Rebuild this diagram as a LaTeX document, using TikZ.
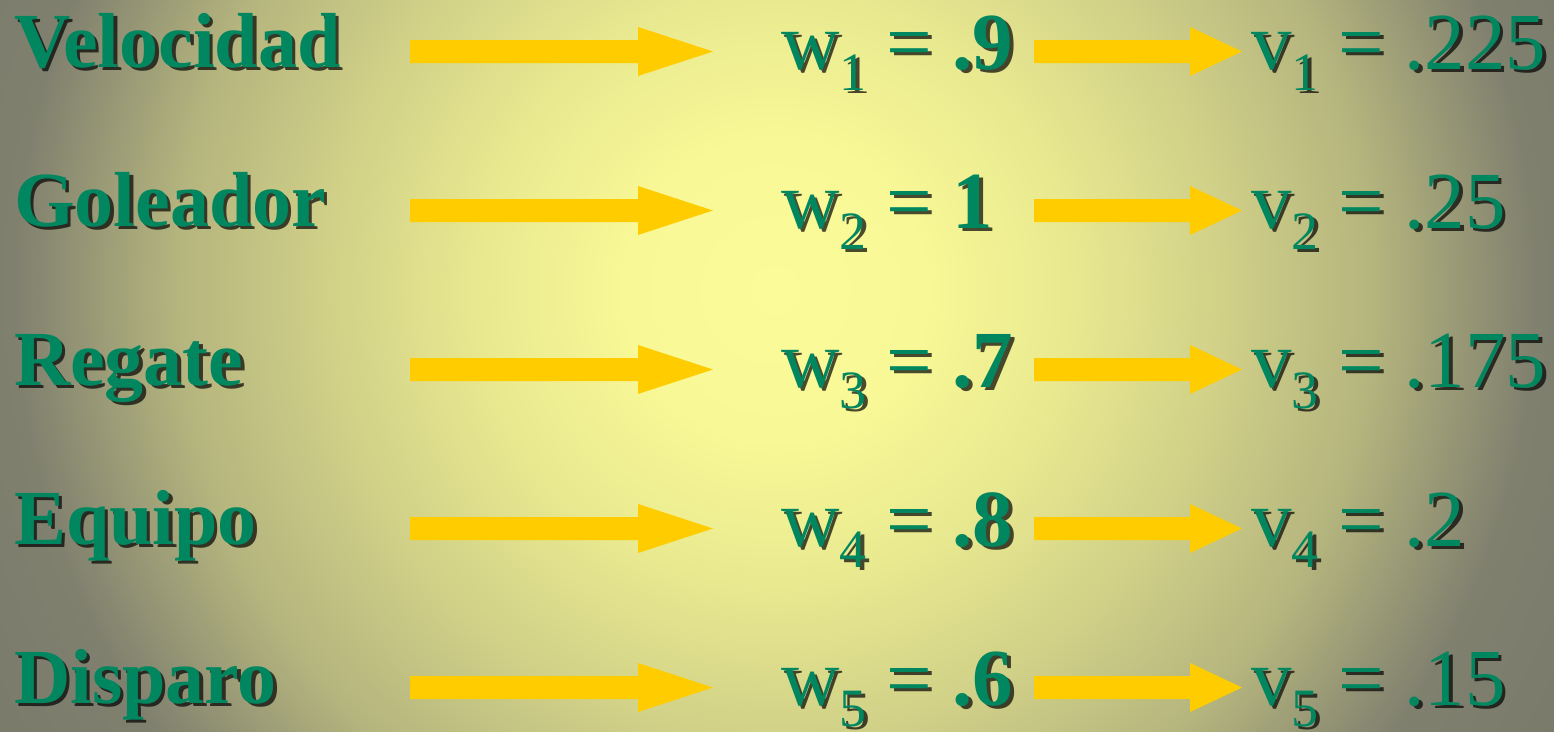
\documentclass[tikz,border=0pt]{standalone}
\usepackage{fontspec}
\setmainfont{Liberation Serif}
\usetikzlibrary{calc}
\definecolor{tgreen}{RGB}{0,135,96}
\definecolor{ayellow}{RGB}{255,204,0}
\definecolor{bgA}{RGB}{251,251,154}
\definecolor{bgB}{RGB}{248,248,150}
\definecolor{bgC}{RGB}{232,232,144}
\definecolor{bgD}{RGB}{208,208,136}
\definecolor{bgE}{RGB}{180,180,126}
\definecolor{bgF}{RGB}{128,128,111}
\definecolor{bgG}{RGB}{120,120,106}
\pgfdeclareradialshading{bgshade}{\pgfpoint{0bp}{0bp}}{color(0bp)=(bgA); color(3.95bp)=(bgB); color(7.9bp)=(bgC); color(11.85bp)=(bgD); color(15.8bp)=(bgE); color(20bp)=(bgF); color(25bp)=(bgG); color(50bp)=(bgG)}
\newcommand\labfont{\fontsize{78}{80}\selectfont\bfseries}
\newcommand\eqfont{\fontsize{81}{83}\selectfont}
\newcommand\subfont{\fontsize{54}{56}\selectfont}
\newcommand\fatarrow[3]{\fill[arrowfill] ($(#1)+(0,-11.5)$) -- ($(#2)+(-#3,-11.5)$) -- ($(#2)+(-#3,-24.5)$) -- (#2) -- ($(#2)+(-#3,24.5)$) -- ($(#2)+(-#3,11.5)$) -- ($(#1)+(0,11.5)$) -- cycle;}
\tikzset{
  txt/.style={inner sep=0pt, outer sep=0pt, anchor=base west, text=tgreen},
  shadowtxt/.style={inner sep=0pt, outer sep=0pt, anchor=base west, text=black, opacity=0.7},
  arrowfill/.style={fill=ayellow, draw=none}
}
\begin{document}
\begin{tikzpicture}[x=1pt, y=-1pt]
\useasboundingbox (0,0) rectangle (1554,731);
\fill[bgG] (0,0) rectangle (1554,731);
\begin{scope}
\clip (0,0) rectangle (1554,731);
\shade[shading=bgshade] (775,290) circle (950pt);
\end{scope}
\foreach \i/\lab/\wv/\vv in {1/Velocidad/.9/.225, 2/Goleador/1/.25, 3/Regate/.7/.175, 4/Equipo/.8/.2, 5/Disparo/.6/.15}{
  \pgfmathsetmacro\yb{67+159*(\i-1)}
  \pgfmathsetmacro\ye{\yb+2}
  \pgfmathsetmacro\ya{\yb-15.5}
  % labels
  \node[shadowtxt] (ls\i) at (17.5,\yb+3.5) {\labfont \lab};
  \node[txt] (l\i) at (14,\yb) {\labfont \lab};
  % arrows
  \coordinate (la\i) at (410,\ya);
  \coordinate (lb\i) at (713,\ya);
  \coordinate (ra\i) at (1034,\ya);
  \coordinate (rb\i) at (1242,\ya);
  \fatarrow{la\i}{lb\i}{75}
  \fatarrow{ra\i}{rb\i}{52}
  % w equations
  \node[shadowtxt] (ws\i) at (784.5,\ye+3.5) {\eqfont w\raisebox{-21pt}{\subfont\i} = \textbf{\wv}};
  \node[txt] (w\i) at (781,\ye) {\eqfont w\raisebox{-21pt}{\subfont\i} = \textbf{\wv}};
  % v equations
  \node[shadowtxt] (vs\i) at (1254.5,\ye+3.5) {\eqfont v\raisebox{-21pt}{\subfont\i} = \vv};
  \node[txt] (v\i) at (1251,\ye) {\eqfont v\raisebox{-21pt}{\subfont\i} = \vv};
}
\end{tikzpicture}
\end{document}
